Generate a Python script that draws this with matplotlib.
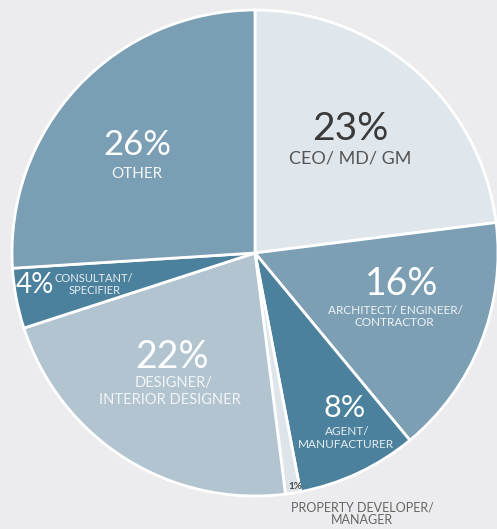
import matplotlib
matplotlib.use("Agg")
import matplotlib.pyplot as plt

# Data
categories = ["CEO/ MD/ GM", "ARCHITECT/ ENGINEER/\nCONTRACTOR", "AGENT/\nMANUFACTURER",
              "PROPERTY DEVELOPER/\nMANAGER", "DESIGNER/\nINTERIOR DESIGNER",
              "CONSULTANT/\nSPECIFIER", "OTHER"]
values = [23, 16, 8, 1, 22, 4, 26]
colors = ["#dfe6ec", "#7c9fb4", "#4b819c", "#dde5eb", "#b1c4d0", "#4b819c", "#7a9eb3"]

W, H = 497, 529
BG = "#ececee"
plt.rcParams['font.family'] = ['Lato', 'DejaVu Sans']

fig = plt.figure(figsize=(W / 100, H / 100), dpi=100, facecolor=BG)
ax = fig.add_axes([0, 0, 1, 1])
ax.set_facecolor(BG)

ax.pie(values, colors=colors, startangle=90, counterclock=False,
       center=(255, H - 253), radius=243,
       wedgeprops=dict(edgecolor="white", linewidth=2))
ax.set_xlim(0, W)
ax.set_ylim(0, H)
ax.set_aspect("equal")
ax.set_axis_off()


def txt(x, y, s, size, color, weight="normal"):
    ax.text(x, H - y, s, fontsize=size, color=color, ha="center", va="baseline",
            fontweight=weight)

pct = [f"{v}%" for v in values]
lab = [c.split("\n") for c in categories]

# CEO
txt(350, 140, pct[0], 28, "#3a3a3a")
txt(350, 163, lab[0][0], 13, "#555555")
# Architect
txt(402, 295, pct[1], 27, "white")
txt(395, 314, lab[1][0], 8.5, "#eef3f6")
txt(394, 326, lab[1][1], 8.5, "#eef3f6")
# Agent
txt(345, 417, pct[2], 22, "white")
txt(347, 435, lab[2][0], 8.5, "#e6eef2")
txt(346, 448, lab[2][1], 8.5, "#e6eef2")
# Property developer
txt(295, 489, pct[3], 7, "#444444", "bold")
txt(362, 512, lab[3][0], 9, "#666666")
txt(362, 524, lab[3][1], 9, "#666666")
# Designer
txt(172, 368, pct[4], 27, "white")
txt(174, 387, lab[4][0], 10.5, "#f2f5f7")
txt(170, 404, lab[4][1], 10.5, "#f2f5f7")
# Consultant
txt(35, 293, pct[5], 20, "white")
txt(94, 282, lab[5][0], 8, "#e6eef2")
txt(95, 294, lab[5][1], 8, "#e6eef2")
# Other
txt(137, 155, pct[6], 25, "white")
txt(137, 178, lab[6][0], 11, "#f2f5f7")

fig.savefig("out.png", dpi=100, facecolor=BG)
